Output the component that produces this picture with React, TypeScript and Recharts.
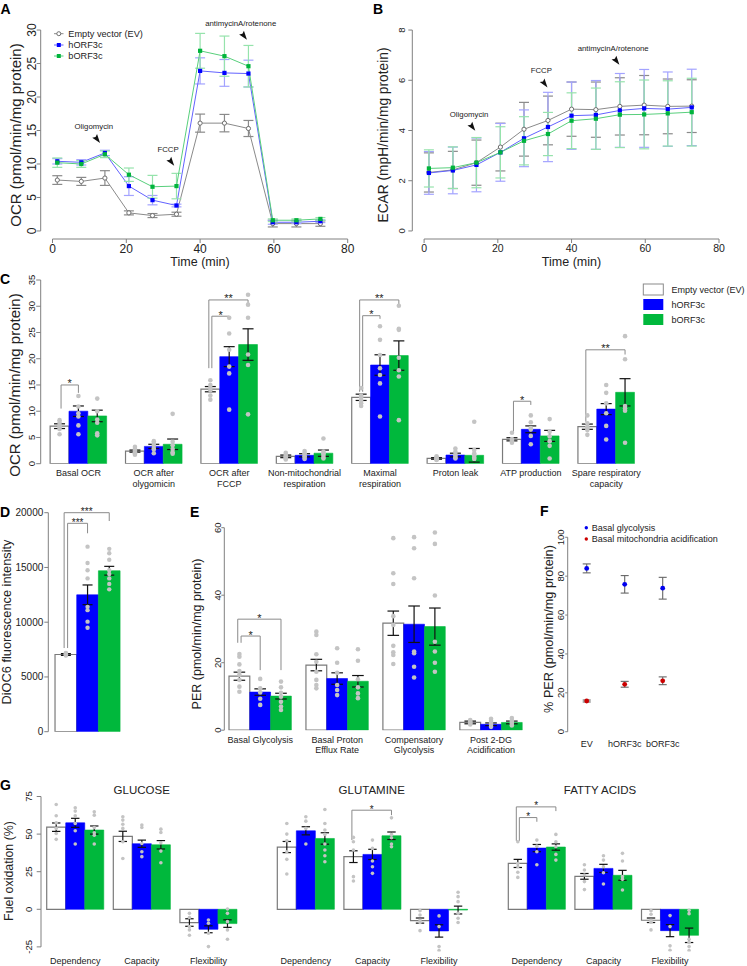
import React from 'react';
import { ComposedChart, Line, Bar, Scatter, XAxis, YAxis, ErrorBar, ReferenceLine, ReferenceDot, Cell } from 'recharts';

const FONT = '"Liberation Sans", Arial, Helvetica, sans-serif';
const TXT = '#222222';
const AXIS = '#808080';
const BLUE = '#0000ff';
const GREEN = '#00b83c';
const DOTC = '#c4c4c4';
const BAR_FILL = ['#ffffff', BLUE, GREEN];
const BAR_STROKE = ['#7a7a7a', BLUE, GREEN];

// ---------------- Panel A / B : time course ----------------
const timeMin = [1.3, 7.8, 14.2, 20.7, 27.1, 33.6, 40.0, 46.6, 53.1, 59.7, 66.1, 72.6];
const timeTicks = [0, 20, 40, 60, 80];

const ocrEV = [7.6, 7.4, 7.9, 2.7, 2.3, 2.5, 16.1, 16.1, 15.3, 1.1, 1.1, 1.1];
const ocrEVErr = [0.65, 0.6, 1.1, 0.3, 0.3, 0.3, 1.35, 1.3, 1.2, 0.5, 0.5, 0.4];
const ocrH = [10.4, 10.25, 11.65, 6.7, 4.6, 3.8, 23.9, 23.6, 23.5, 1.3, 1.3, 1.45];
const ocrHErr = [0.4, 0.4, 0.4, 1.4, 0.7, 0.2, 1.95, 2.0, 2.0, 0.3, 0.2, 0.2];
const ocrB = [10.2, 10.0, 11.45, 8.4, 6.6, 6.7, 26.9, 26.1, 24.6, 1.6, 1.6, 1.8];
const ocrBErr = [0.7, 0.5, 0.5, 1.0, 1.7, 1.9, 2.6, 3.0, 3.1, 0.2, 0.2, 0.2];
const ocrTicks = [0, 5, 10, 15, 20, 25, 30];

const ecarEV = [2.33, 2.43, 2.72, 3.34, 4.05, 4.4, 4.85, 4.83, 4.96, 5.01, 4.96, 4.97];
const ecarEVErr = [0.78, 0.74, 0.9, 0.95, 1.07, 0.97, 1.08, 1.1, 1.14, 1.18, 1.09, 1.05];
const ecarH = [2.31, 2.41, 2.63, 3.13, 3.69, 4.14, 4.59, 4.62, 4.8, 4.88, 4.85, 4.92];
const ecarHErr = [0.85, 0.93, 1.07, 1.15, 1.13, 1.38, 1.34, 1.37, 1.47, 1.55, 1.48, 1.52];
const ecarB = [2.49, 2.52, 2.72, 3.13, 3.59, 3.86, 4.39, 4.47, 4.63, 4.64, 4.68, 4.73];
const ecarBErr = [0.74, 0.83, 1.0, 1.02, 0.96, 0.86, 1.11, 1.22, 1.31, 1.37, 1.3, 1.35];
const ecarTicks = [0, 2, 4, 6, 8];

const ocrNotes = [
  { label: 'Oligomycin', x: 12.15, y: 13.66 },
  { label: 'FCCP', x: 32.25, y: 10.27 },
  { label: 'antimycinA/rotenone', x: 51.96, y: 29.07 },
];
const ecarNotes = [
  { label: 'Oligomycin', x: 13.15, y: 4.13 },
  { label: 'FCCP', x: 32.74, y: 5.86 },
  { label: 'antimycinA/rotenone', x: 52.24, y: 6.76 },
];

// ---------------- Panel C : OCR parameters ----------------
const cGroups = ['Basal OCR', 'OCR after\nolygomicin', 'OCR after\nFCCP', 'Non-mitochondrial\nrespiration', 'Maximal\nrespiration', 'Proton leak', 'ATP production', 'Spare respiratory\ncapacity'];
const cEV = [7.15, 2.4, 14.2, 1.4, 12.65, 1.0, 4.65, 7.05];
const cEVErr = [0.45, 0.2, 0.5, 0.25, 0.6, 0.15, 0.3, 0.5];
const cH = [10.0, 3.3, 20.4, 1.6, 18.8, 1.65, 6.55, 10.4];
const cHErr = [1.0, 0.4, 1.9, 0.3, 1.95, 0.35, 0.65, 1.05];
const cB = [9.1, 3.7, 22.7, 2.0, 20.6, 1.6, 5.3, 13.6];
const cBErr = [1.1, 1.0, 3.0, 0.6, 2.8, 1.3, 1.05, 2.6];
const cDots = [
  [[8.3, 7.8, 7.3, 7.0, 6.6, 5.6], [12.9, 10.9, 9.6, 9.0, 7.3, 5.6], [12.4, 10.0, 8.4, 7.8, 5.8, 5.4]],
  [[3.2, 2.8, 2.5, 2.2, 2.0, 1.7], [4.3, 3.9, 3.5, 3.0, 2.7, 2.0], [9.5, 4.2, 3.5, 2.8, 2.2, 1.9]],
  [[15.9, 15.0, 14.5, 14.0, 13.0, 12.2], [27.8, 24.8, 21.7, 18.5, 17.2, 10.3], [32.2, 30.3, 27.8, 20.8, 18.8, 9.4]],
  [[2.1, 1.7, 1.4, 1.2, 1.0, 0.8], [2.4, 2.0, 1.7, 1.4, 1.1, 0.9], [4.8, 2.3, 2.0, 1.7, 1.3, 1.0]],
  [[14.4, 13.0, 12.6, 12.0, 11.5, 11.0], [26.2, 23.6, 20.7, 18.2, 16.9, 15.3, 9.0], [30.1, 25.7, 25.5, 20.2, 17.8, 16.6, 8.3]],
  [[1.4, 1.2, 1.0, 0.9, 0.8, 0.7], [2.9, 2.3, 1.8, 1.5, 1.2, 1.0], [8.0, 2.6, 2.0, 1.6, 1.2, 0.9]],
  [[5.9, 4.7, 4.5, 4.3, 4.0], [9.2, 7.9, 6.8, 6.5, 5.3, 3.7], [8.5, 6.1, 5.2, 4.3, 3.4, 1.0]],
  [[9.2, 7.7, 7.05, 6.8, 6.4, 5.5], [15.0, 13.5, 11.5, 9.6, 7.2, 4.6], [24.3, 19.9, 11.0, 10.5, 10.1, 4.0]],
];
const cSig = [
  { g: 0, a: 0, b: 1, top: 15.0, lowA: 10.5, lowB: 13.5, txt: '*' },
  { g: 2, a: 0, b: 1, top: 28.1, lowA: 18.2, lowB: 27.5, txt: '*' },
  { g: 2, a: 0, b: 2, top: 31.2, lowA: 18.2, lowB: 30.5, txt: '**' },
  { g: 4, a: 0, b: 1, top: 28.2, lowA: 13.7, lowB: 27.6, txt: '*' },
  { g: 4, a: 0, b: 2, top: 31.2, lowA: 13.7, lowB: 30.4, txt: '**' },
  { g: 6, a: 0, b: 1, top: 11.9, lowA: 5.8, lowB: 11.2, txt: '*' },
  { g: 7, a: 0, b: 2, top: 21.7, lowA: 8.0, lowB: 20.8, txt: '**' },
];
const cTicks = [0, 5, 10, 15, 20, 25, 30, 35];

// ---------------- Panel D : DiOC6 ----------------
const dEV = [7050];
const dEVErr = [80];
const dH = [12500];
const dHErr = [900];
const dB = [14700];
const dBErr = [400];
const dDots = [[
  [7200, 7150, 7100, 7050, 7000, 6950],
  [16900, 15400, 14750, 14000, 11400, 11100, 10050, 9500],
  [16700, 16300, 15700, 14750, 14400, 14000, 13500, 13000],
]];
const dSig = [
  { g: 0, a: 0, b: 1, top: 19030, lowA: 7640, lowB: 18120, txt: '***' },
  { g: 0, a: 0, b: 2, top: 20000, lowA: 7640, lowB: 19240, txt: '***' },
];
const dTicks = [0, 5000, 10000, 15000, 20000];

// ---------------- Panel E : PER ----------------
const eGroups = ['Basal Glycolysis', 'Basal Proton\nEfflux Rate', 'Compensatory\nGlycolysis', 'Post 2-DG\nAcidification'];
const eEV = [16.0, 19.3, 31.7, 2.3];
const eEVErr = [1.2, 1.7, 3.6, 0.4];
const eH = [11.3, 15.3, 31.4, 1.75];
const eHErr = [0.95, 1.7, 5.4, 0.4];
const eB = [10.1, 14.5, 30.7, 2.3];
const eBErr = [0.85, 1.7, 5.5, 0.4];
const eDots = [
  [[22.6, 21.8, 19.5, 17.5, 16.4, 14.9, 12.9, 11.4], [15.2, 12.4, 11.2, 9.3, 7.5], [14.4, 12.7, 11.1, 9.9, 8.4, 7.0, 6.0]],
  [[29.2, 28.2, 22.5, 20.3, 17.3, 14.9, 13.4, 12.4], [24.3, 20.0, 17.0, 13.4, 11.9, 10.4], [24.0, 20.6, 15.1, 12.7, 10.9, 9.5]],
  [[56.9, 46.5, 43.3, 33.8, 31.2, 25.0, 23.1, 22.3, 19.6], [57.2, 53.9, 45.0, 23.3, 22.8, 18.8, 15.6], [58.6, 55.2, 39.9, 26.2, 23.3, 20.0, 17.3]],
  [[3.0, 2.6, 2.3, 2.0, 1.7], [3.4, 2.8, 2.2, 1.6, 1.0], [3.6, 2.9, 2.4, 1.9, 1.4]],
];
const eSig = [
  { g: 0, a: 0, b: 1, top: 27.9, lowA: 25.9, lowB: 17.8, txt: '*' },
  { g: 0, a: 0, b: 2, top: 32.9, lowA: 25.9, lowB: 17.8, txt: '*' },
];
const eTicks = [0, 20, 40, 60];

// ---------------- Panel F : % PER ----------------
const fCats = ['EV', 'hORF3c', 'bORF3c'];
const fGlyco = [84.0, 75.8, 73.8];
const fGlycoErr = [2.3, 4.5, 5.6];
const fMito = [15.8, 24.4, 26.2];
const fMitoErr = [0.5, 1.5, 2.0];
const fTicks = [0, 20, 40, 60, 80, 100];

// ---------------- Panel G : fuel oxidation ----------------
const gGroups = ['Dependency', 'Capacity', 'Flexibility'];
const gTicks = [-25, 0, 25, 50, 75];
const gluEV = [54.6, 48.5, -8.8];
const gluEVErr = [2.8, 3.4, 2.5];
const gluH = [57.5, 43.6, -13.3];
const gluHErr = [3.0, 2.4, 2.3];
const gluB = [52.7, 42.9, -9.5];
const gluBErr = [2.7, 2.8, 2.5];
const gluDots = [
  [[69.7, 62.2, 57.5, 53.8, 50.4, 46.5], [67.5, 65.3, 62.2, 57.1, 52.2, 43.4], [64.8, 62.6, 54.4, 50.9, 49.3, 43.4]],
  [[61.5, 59.3, 56.6, 53.8, 44.9, 33.8], [56, 54.4, 43.8, 38.3, 35], [53.3, 51.1, 44.2, 38.7, 31]],
  [[-2.7, -5.5, -11.5, -13.7, -17.3], [-7.1, -9.3, -15.9, -24.8], [0.2, -2.7, -8.2, -13.7, -19.9]],
];
const glnEV = [41.4, 35.0, -7.5];
const glnEVErr = [3.7, 3.9, 1.7];
const glnH = [52.2, 36.5, -14.4];
const glnHErr = [2.7, 3.4, 4.1];
const glnB = [47.1, 48.9, -0.5];
const glnBErr = [3.8, 2.5, 2.6];
const glnDots = [
  [[57.1, 50, 45.6, 38.3, 33.2, 23.5], [61.5, 58.6, 53.8, 43.4], [66.4, 57.1, 52.7, 49.8, 43.4, 39.4, 35.6, 31.6]],
  [[47.8, 44.9, 39.4, 21.7, 18.8], [46, 40.5, 32.1, 28.3, 23.9], [60.8, 49.8, 47.6, 43.4, 41.6]],
  [[-0.9, -3.8, -7.1, -8.8, -14.2], [-4.4, -11.5, -24.8, -27.4], [11.3, 8.4, 5.1, -2.7, -6, -8.8]],
];
const glnSig = [{ g: 1, a: 0, b: 2, top: 65.9, lowA: 46, lowB: 62.6, txt: '*' }];
const faEV = [30.5, 21.9, -7.3];
const faEVErr = [2.7, 1.9, 1.5];
const faH = [40.7, 27.2, -14.2];
const faHErr = [2.4, 2.7, 4.0];
const faB = [41.4, 22.6, -17.3];
const faBErr = [2.1, 3.3, 4.8];
const faDots = [
  [[44.9, 30.5, 28.3, 24.6, 21.2], [46, 42, 38.3, 29.6], [49.8, 44.9, 41.6, 36.5, 32.7]],
  [[29.6, 26.1, 22.8, 18.4, 13.1], [35.6, 32.7, 28.3, 24.3, 16.8], [37.2, 32.1, 21.7, 19.9, 12.8]],
  [[-0.9, -3.3, -7.1, -8.6, -13.7], [-4.2, -11.5, -24.3, -27.2], [-0.7, -2.9, -19.9, -22.1, -24.8, -27.4]],
];
const faSig = [
  { g: 0, a: 0, b: 1, top: 61, lowA: 45.5, lowB: 58.2, txt: '*' },
  { g: 0, a: 0, b: 2, top: 68.1, lowA: 45.5, lowB: 65.3, txt: '*' },
];

// ---------------- helpers ----------------
const rotTick = (fs: number) => (p: any) => (
  <text x={p.x} y={p.y} transform={`rotate(-90 ${p.x} ${p.y})`} textAnchor="middle" fontSize={fs} fontFamily={FONT} fill={TXT}>
    {p.payload.value}
  </text>
);
const horTick = (fs: number) => (p: any) => (
  <text x={p.x} y={p.y} dy={fs * 0.35} textAnchor="end" fontSize={fs} fontFamily={FONT} fill={TXT}>
    {p.payload.value}
  </text>
);
const botTick = (fs: number) => (p: any) => (
  <text x={p.x} y={p.y} dy={fs * 0.72} textAnchor="middle" fontSize={fs} fontFamily={FONT} fill={TXT}>
    {p.payload.value}
  </text>
);
const multiTick = (fs: number, centers: number[], labels: string[], dy: number, lh: number) => (p: any) => {
  const i = centers.indexOf(p.payload.value);
  const lines = (labels[i] || '').split('\n');
  return (
    <text x={p.x} y={p.y} textAnchor="middle" fontSize={fs} fontFamily={FONT} fill={TXT}>
      {lines.map((l, k) => (
        <tspan key={k} x={p.x} dy={k === 0 ? dy : lh}>{l}</tspan>
      ))}
    </text>
  );
};
const dotShape = (r: number, fill: string) => (p: any) => <circle cx={p.cx} cy={p.cy} r={r} fill={fill} />;

function bracket(key: string, xa: number, xb: number, top: number, lowA: number, lowB: number, txt: string, fs: number) {
  const st = { stroke: '#8a8a8a', strokeWidth: 1 };
  return [
    <ReferenceLine key={key + 'a'} segment={[{ x: xa, y: lowA }, { x: xa, y: top }]} ifOverflow="visible" {...st} />,
    <ReferenceLine
      key={key + 'b'}
      segment={[{ x: xa, y: top }, { x: xb, y: top }]}
      ifOverflow="visible"
      {...st}
      label={{ value: txt, position: 'top', offset: -2.5, fontSize: fs, fill: '#222', fontFamily: FONT }}
    />,
    <ReferenceLine key={key + 'c'} segment={[{ x: xb, y: top }, { x: xb, y: lowB }]} ifOverflow="visible" {...st} />,
  ];
}

const arrowShape = (label: string) => (p: any) => {
  const cx = p.cx;
  const cy = p.cy;
  const pts = [
    [2.7, 3.6],
    [-5.1, -1.8],
    [-1.8, -2.4],
    [-0.3, -5.4],
  ]
    .map(([dx, dy]) => `${cx + dx},${cy + dy}`)
    .join(' ');
  return (
    <g>
      <polygon points={pts} fill="#111" />
      <text x={cx - 3.5} y={cy - 10.3} textAnchor="middle" fontSize={7.8} fontFamily={FONT} fill="#222">
        {label}
      </text>
    </g>
  );
};

const openDot = (p: any) => <circle key={`o${p.index}`} cx={p.cx} cy={p.cy} r={2.1} fill="#ffffff" stroke="#6e6e6e" strokeWidth={1} />;
const sqDot = (c: string) => (p: any) => <rect key={`q${p.index}`} x={p.cx - 2.1} y={p.cy - 2.1} width={4.2} height={4.2} fill={c} />;

const SERIES = [
  { key: 'ev', line: '#8a8a8a', err: '#8a8a8a', dot: openDot },
  { key: 'h', line: '#6262ff', err: '#a3a3ff', dot: sqDot('#0000ff') },
  { key: 'b', line: '#58cf7c', err: '#96e3ac', dot: sqDot('#00b43c') },
];

function LinePanel(p: any) {
  const rows = timeMin.map((t, i) => ({ t, ev: p.ev[i], evE: p.evE[i], h: p.h[i], hE: p.hE[i], b: p.b[i], bE: p.bE[i] }));
  return (
    <div style={{ position: 'absolute', left: p.left, top: p.top }}>
      <ComposedChart width={p.width} height={p.height} data={rows} margin={p.margin}>
        <XAxis dataKey="t" type="number" domain={[-3.2, 83.2]} allowDataOverflow ticks={timeTicks} interval={0} axisLine={false} tickLine={{ stroke: AXIS }} tickSize={4} tickMargin={1} height={p.xH} tick={botTick(p.xFs)} />
        <YAxis type="number" domain={p.yDomain} allowDataOverflow ticks={p.yTicks} interval={0} width={p.yW} axisLine={false} tickLine={{ stroke: AXIS }} tickSize={4} tickMargin={p.yTm} tick={rotTick(p.yFs)} />
        <ReferenceLine segment={[{ x: 0, y: p.yDomain[0] }, { x: 80, y: p.yDomain[0] }]} stroke={AXIS} ifOverflow="visible" />
        <ReferenceLine segment={[{ x: -3.2, y: p.yTicks[0] }, { x: -3.2, y: p.yTicks[p.yTicks.length - 1] }]} stroke={AXIS} ifOverflow="visible" />
        {SERIES.map((s) => (
          <Line key={s.key} dataKey={s.key} stroke={s.line} strokeWidth={1} isAnimationActive={false} dot={s.dot} activeDot={false}>
            <ErrorBar dataKey={s.key + 'E'} width={p.cap} stroke={s.err} strokeWidth={1.2} direction="y" isAnimationActive={false} />
          </Line>
        ))}
        {p.notes.map((n: any, i: number) => (
          <ReferenceDot key={i} x={n.x} y={n.y} r={0} shape={arrowShape(n.label)} ifOverflow="visible" />
        ))}
      </ComposedChart>
    </div>
  );
}

function BarPanel(p: any) {
  const rows: any[] = [];
  const pts: any[] = [];
  const vals = [p.ev, p.h, p.b];
  const errs = [p.evE, p.hE, p.bE];
  p.ev.forEach((_: number, g: number) => {
    for (let s = 0; s < 3; s++) {
      const x = g * p.step + s;
      rows.push({ x, v: vals[s][g], e: errs[s][g], s });
      p.dots[g][s].forEach((y: number) => pts.push({ x, y }));
    }
  });
  const centers = p.ev.map((_: number, g: number) => g * p.step + 1);
  const sig = (p.sig || []).flatMap((q: any, i: number) => {
    const xa = q.g * p.step + q.a + (q.b - q.a === 2 ? -0.08 : 0.08);
    const xb = q.g * p.step + q.b;
    return bracket(`s${i}`, xa, xb, q.top, q.lowA, q.lowB, q.txt, p.starFs);
  });
  let yTick: any = false;
  if (p.yTick === 'rot') yTick = rotTick(p.yFs);
  if (p.yTick === 'hor') yTick = horTick(p.yFs);
  return (
    <div style={{ position: 'absolute', left: p.left, top: p.top }}>
      <ComposedChart width={p.width} height={p.height} data={rows} margin={p.margin}>
        <XAxis
          dataKey="x"
          type="number"
          domain={p.xDomain}
          allowDataOverflow
          ticks={centers}
          interval={0}
          axisLine={false}
          tickLine={false}
          tickSize={0}
          tickMargin={0}
          height={p.xH}
          hide={!p.labels}
          tick={p.labels ? multiTick(p.labelFs, centers, p.labels, p.labelDy, p.labelLh) : false}
        />
        <YAxis
          type="number"
          domain={p.yDomain}
          allowDataOverflow
          ticks={p.yTicks}
          interval={0}
          width={p.yW}
          hide={!p.yTick}
          axisLine={p.ySeg ? false : { stroke: AXIS }}
          tickLine={{ stroke: AXIS }}
          tickSize={p.tickSize}
          tickMargin={p.tickMargin}
          tick={yTick}
        />
        {p.ySeg && (
          <ReferenceLine segment={[{ x: p.xDomain[0], y: p.yTicks[0] }, { x: p.xDomain[0], y: p.yTicks[p.yTicks.length - 1] }]} stroke={AXIS} ifOverflow="visible" />
        )}
        <Bar dataKey="v" barSize={p.unit - 0.02} isAnimationActive={false}>
          {rows.map((r, i) => (
            <Cell key={i} fill={BAR_FILL[r.s]} stroke={BAR_STROKE[r.s]} strokeWidth={r.s === 0 ? 1.2 : 0.6} />
          ))}
          <ErrorBar dataKey="e" width={p.cap} stroke="#111" strokeWidth={1.2} direction="y" isAnimationActive={false} />
        </Bar>
        <Scatter data={pts} dataKey="y" isAnimationActive={false} shape={dotShape(p.dotR, DOTC)} />
        {sig}
      </ComposedChart>
    </div>
  );
}

function PanelF() {
  const rows = fCats.map((c, i) => ({ x: i + 1, gl: fGlyco[i], glE: fGlycoErr[i], mi: fMito[i], miE: fMitoErr[i] }));
  const centers = rows.map((r) => r.x);
  return (
    <div style={{ position: 'absolute', left: 510, top: 490 }}>
      <ComposedChart width={237} height={265} data={rows} margin={{ top: 39.5, right: 65.3, bottom: 0, left: 0 }}>
        <XAxis dataKey="x" type="number" domain={[0.5, 3.5]} allowDataOverflow ticks={centers} interval={0} axisLine={false} tickLine={false} tickSize={0} tickMargin={0} height={15.5} tick={multiTick(9, centers, fCats, 7, 10)} />
        <YAxis type="number" domain={[-4, 104]} allowDataOverflow ticks={fTicks} interval={0} width={57.7} axisLine={false} tickLine={{ stroke: AXIS }} tickSize={2.5} tickMargin={0.8} tick={rotTick(9.5)} />
        <ReferenceLine segment={[{ x: 0.5, y: 0 }, { x: 0.5, y: 100 }]} stroke={AXIS} ifOverflow="visible" />
        <Scatter dataKey="gl" isAnimationActive={false} shape={dotShape(2.4, '#0000ee')}>
          <ErrorBar dataKey="glE" width={4} stroke="#666" strokeWidth={1.1} direction="y" isAnimationActive={false} />
        </Scatter>
        <Scatter dataKey="mi" isAnimationActive={false} shape={dotShape(2.4, '#cc0000')}>
          <ErrorBar dataKey="miE" width={4} stroke="#666" strokeWidth={1.1} direction="y" isAnimationActive={false} />
        </Scatter>
      </ComposedChart>
    </div>
  );
}

const VText = ({ x, y, fs, children }: any) => (
  <text x={x} y={y} transform={`rotate(-90 ${x} ${y})`} textAnchor="middle" fontSize={fs} fontFamily={FONT} fill={TXT}>
    {children}
  </text>
);

const Letter = ({ x, y, children }: any) => (
  <text x={x} y={y} fontSize={14} fontWeight="bold" fontFamily={FONT} fill="#000">
    {children}
  </text>
);

export default function App() {
  const gCommon = {
    top: 780,
    height: 186,
    xH: 14.6,
    xDomain: [-0.8, 9.7],
    unit: 19.03,
    step: 3.5,
    yDomain: [-28, 78],
    yTicks: gTicks,
    yFs: 9.5,
    tickSize: 4.3,
    tickMargin: 5,
    cap: 4.2,
    dotR: 1.8,
    labels: gGroups,
    labelFs: 9,
    labelDy: 12.8,
    labelLh: 10,
    starFs: 10,
  };
  return (
    <div style={{ position: 'absolute', left: 0, top: 0, width: 747, height: 966, background: '#ffffff', overflow: 'hidden', fontFamily: FONT }}>
      <LinePanel
        left={0} top={0} width={370} height={265}
        margin={{ top: 22, right: 10.5, bottom: 0, left: 0 }}
        yW={40.7} xH={26} yDomain={[-1.2, 31.2]} yTicks={ocrTicks} yFs={12} xFs={12} yTm={1} cap={5}
        ev={ocrEV} evE={ocrEVErr} h={ocrH} hE={ocrHErr} b={ocrB} bE={ocrBErr} notes={ocrNotes}
      />
      <LinePanel
        left={370} top={0} width={377} height={265}
        margin={{ top: 22, right: 16.2, bottom: 0, left: 0 }}
        yW={42.3} xH={26} yDomain={[-0.32, 8.32]} yTicks={ecarTicks} yFs={9.5} xFs={10.5} yTm={3.3} cap={5}
        ev={ecarEV} evE={ecarEVErr} h={ecarH} hE={ecarHErr} b={ecarB} bE={ecarBErr} notes={ecarNotes}
      />
      <BarPanel
        left={0} top={265} width={747} height={225}
        margin={{ top: 15, right: 103.1, bottom: 0, left: 0 }}
        yW={40.7} xH={26.3} xDomain={[-1, 31]} unit={18.85} step={4}
        yDomain={[0, 35]} yTicks={cTicks} yTick="rot" yFs={9.5} tickSize={4.5} tickMargin={1}
        cap={5.5} dotR={2.3} labels={cGroups} labelFs={9} labelDy={12.5} labelLh={11} starFs={11}
        ev={cEV} evE={cEVErr} h={cH} hE={cHErr} b={cB} bE={cBErr} dots={cDots} sig={cSig}
      />
      <BarPanel
        left={0} top={490} width={130} height={250}
        margin={{ top: 22.7, right: 3.4, bottom: 8.3, left: 0 }}
        yW={48.3} xH={0} xDomain={[-0.81, 2.8]} unit={21.7} step={4}
        yDomain={[0, 20000]} yTicks={dTicks} yTick="hor" yFs={10} tickSize={4} tickMargin={1}
        cap={5} dotR={2.2} starFs={10}
        ev={dEV} evE={dEVErr} h={dH} hE={dHErr} b={dB} bE={dBErr} dots={dDots} sig={dSig}
      />
      <BarPanel
        left={190} top={490} width={340} height={270}
        margin={{ top: 37.7, right: 3.6, bottom: 0, left: 0 }}
        yW={34.3} xH={29.8} xDomain={[-0.726, 13.8]} unit={20.8} step={3.7}
        yDomain={[0, 60]} yTicks={eTicks} yTick="rot" yFs={9.5} tickSize={3} tickMargin={0.5}
        cap={5.8} dotR={2.3} labels={eGroups} labelFs={9} labelDy={12.3} labelLh={10.7} starFs={11}
        ev={eEV} evE={eEVErr} h={eH} hE={eHErr} b={eB} bE={eBErr} dots={eDots} sig={eSig}
      />
      <PanelF />
      <BarPanel
        {...gCommon} left={0} width={250}
        margin={{ top: 12, right: 9.2, bottom: 0, left: 0 }}
        yW={41} yTick="rot" ySeg
        ev={gluEV} evE={gluEVErr} h={gluH} hE={gluHErr} b={gluB} bE={gluBErr} dots={gluDots} sig={[]}
      />
      <BarPanel
        {...gCommon} left={250} width={250}
        margin={{ top: 12, right: 28.6, bottom: 0, left: 21.6 }}
        yW={0} yTick={null}
        ev={glnEV} evE={glnEVErr} h={glnH} hE={glnHErr} b={glnB} bE={glnBErr} dots={glnDots} sig={glnSig}
      />
      <BarPanel
        {...gCommon} left={490} width={257}
        margin={{ top: 12, right: 44.6, bottom: 0, left: 12.6 }}
        yW={0} yTick={null}
        ev={faEV} evE={faEVErr} h={faH} hE={faHErr} b={faB} bE={faBErr} dots={faDots} sig={faSig}
      />

      <svg width={747} height={966} style={{ position: 'absolute', left: 0, top: 0, pointerEvents: 'none' }}>
        <Letter x={0.5} y={13.5}>A</Letter>
        <Letter x={373} y={13.5}>B</Letter>
        <Letter x={0} y={283.5}>C</Letter>
        <Letter x={0} y={517}>D</Letter>
        <Letter x={190} y={517}>E</Letter>
        <Letter x={540} y={516}>F</Letter>
        <Letter x={0} y={790}>G</Letter>

        <VText x={21} y={135} fs={15}>OCR (pmol/min/mg protein)</VText>
        <VText x={388} y={135} fs={13.75}>ECAR (mpH/min/mg protein)</VText>
        <VText x={20} y={385} fs={15}>OCR (pmol/min/mg protein)</VText>
        <VText x={10.5} y={622} fs={12.8}>DiOC6 fluorescence intensity</VText>
        <VText x={200.5} y={634} fs={12.5}>PER (pmol/min/mg protein)</VText>
        <VText x={553} y={629} fs={12.7}>% PER (pmol/min/mg protein)</VText>
        <VText x={12.5} y={871} fs={12.4}>Fuel oxidation (%)</VText>

        <text x={200} y={265.5} textAnchor="middle" fontSize={12.5} fontFamily={FONT} fill={TXT}>Time (min)</text>
        <text x={571.5} y={265.5} textAnchor="middle" fontSize={12.5} fontFamily={FONT} fill={TXT}>Time (min)</text>

        <g fontFamily={FONT} fontSize={9.2} fill={TXT}>
          <line x1={54} y1={33.7} x2={63.5} y2={33.7} stroke="#8a8a8a" />
          <circle cx={58.8} cy={33.7} r={2} fill="#fff" stroke="#6e6e6e" />
          <text x={68.3} y={36.9}>Empty vector (EV)</text>
          <line x1={54} y1={45} x2={63.5} y2={45} stroke="#6262ff" />
          <rect x={56.8} y={43} width={4} height={4} fill="#0000ff" />
          <text x={68.3} y={48.2}>hORF3c</text>
          <line x1={54} y1={56} x2={63.5} y2={56} stroke="#58cf7c" />
          <rect x={56.8} y={54} width={4} height={4} fill="#00b43c" />
          <text x={68.3} y={59.2}>bORF3c</text>
        </g>

        <g fontFamily={FONT} fontSize={9} fill={TXT}>
          <rect x={643.3} y={284} width={20} height={11} fill="#fff" stroke="#8a8a8a" />
          <text x={671.5} y={292.5}>Empty vector (EV)</text>
          <rect x={643.3} y={299} width={20} height={11} fill={BLUE} />
          <text x={671.5} y={307.5}>hORF3c</text>
          <rect x={643.3} y={314} width={20} height={11} fill={GREEN} />
          <text x={671.5} y={322.5}>bORF3c</text>
        </g>

        <g fontFamily={FONT} fontSize={9} fill={TXT}>
          <circle cx={586.3} cy={527.7} r={1.7} fill="#0000ee" />
          <text x={591.7} y={530.9}>Basal glycolysis</text>
          <circle cx={586.3} cy={539} r={1.7} fill="#cc0000" />
          <text x={591.7} y={542.2}>Basal mitochondria acidification</text>
        </g>

        <g fontFamily={FONT} fontSize={11.5} fill={TXT} textAnchor="middle">
          <text x={141.7} y={794}>GLUCOSE</text>
          <text x={371.7} y={794}>GLUTAMINE</text>
          <text x={600} y={794}>FATTY ACIDS</text>
        </g>
      </svg>
    </div>
  );
}
